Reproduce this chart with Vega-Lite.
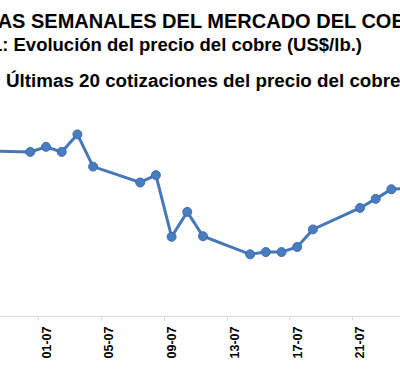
{
  "$schema": "https://vega.github.io/schema/vega-lite/v6.json",
  "background": "white",
  "padding": {"left": -78, "top": 12, "right": -34, "bottom": 0},
  "spacing": 0,
  "config": {"view": {"stroke": null}, "font": "Liberation Sans"},
  "title": {
    "text": "CIFRAS SEMANALES DEL MERCADO DEL COBRE",
    "anchor": "start", "frame": "group", "dx": -49,
    "font": "Liberation Sans", "fontSize": 20, "fontWeight": "bold", "color": "#000000",
    "offset": 3.3
  },
  "vconcat": [
    {
      "title": {
        "text": "Gráfico 1: Evolución del precio del cobre (US$/lb.)",
        "anchor": "start", "frame": "group", "dx": -78,
        "font": "Liberation Sans", "fontSize": 18.5, "fontWeight": "bold", "color": "#000000",
        "offset": 18
      },
      "vconcat": [
        {
          "title": {
            "text": "Últimas 20 cotizaciones del precio del cobre",
            "anchor": "start", "frame": "group", "dx": 6,
            "font": "Liberation Sans", "fontSize": 18.8, "fontWeight": "bold", "color": "#000000",
            "offset": 10.2
          },
          "width": 400,
          "height": 215,
          "data": {
            "values": [
              {"fecha": "2025-06-27", "precio": 4.552},
              {"fecha": "2025-06-30", "precio": 4.550},
              {"fecha": "2025-07-01", "precio": 4.559},
              {"fecha": "2025-07-02", "precio": 4.550},
              {"fecha": "2025-07-03", "precio": 4.581},
              {"fecha": "2025-07-04", "precio": 4.524},
              {"fecha": "2025-07-07", "precio": 4.496},
              {"fecha": "2025-07-08", "precio": 4.509},
              {"fecha": "2025-07-09", "precio": 4.400},
              {"fecha": "2025-07-10", "precio": 4.444},
              {"fecha": "2025-07-11", "precio": 4.401},
              {"fecha": "2025-07-14", "precio": 4.369},
              {"fecha": "2025-07-15", "precio": 4.373},
              {"fecha": "2025-07-16", "precio": 4.373},
              {"fecha": "2025-07-17", "precio": 4.382},
              {"fecha": "2025-07-18", "precio": 4.413},
              {"fecha": "2025-07-21", "precio": 4.451},
              {"fecha": "2025-07-22", "precio": 4.467},
              {"fecha": "2025-07-23", "precio": 4.484},
              {"fecha": "2025-07-24", "precio": 4.486}
            ]
          },
          "encoding": {
            "x": {
              "field": "fecha", "type": "temporal",
              "scale": {
                "type": "utc",
                "domain": [
                  {"year": 2025, "month": 6, "date": 28, "hours": 1, "minutes": 40, "utc": true},
                  {"year": 2025, "month": 7, "date": 23, "hours": 13, "minutes": 9, "utc": true}
                ]
              },
              "axis": {
                "title": null,
                "values": [
                  {"year": 2025, "month": 7, "date": 1, "utc": true},
                  {"year": 2025, "month": 7, "date": 5, "utc": true},
                  {"year": 2025, "month": 7, "date": 9, "utc": true},
                  {"year": 2025, "month": 7, "date": 13, "utc": true},
                  {"year": 2025, "month": 7, "date": 17, "utc": true},
                  {"year": 2025, "month": 7, "date": 21, "utc": true}
                ],
                "labelExpr": "utcFormat(datum.value, '%d-%m')",
                "grid": false,
                "domainColor": "#d9d9d9", "domainWidth": 1,
                "tickColor": "#d9d9d9", "tickSize": 4, "tickWidth": 1,
                "tickOffset": -7.85, "labelOffset": 7.85,
                "labelAngle": 270, "labelPadding": 6,
                "labelFont": "Liberation Sans", "labelFontSize": 12.5, "labelFontWeight": "bold",
                "labelColor": "#000000"
              }
            },
            "y": {
              "field": "precio", "type": "quantitative",
              "scale": {"domain": [4.26, 4.64], "zero": false},
              "axis": null
            }
          },
          "layer": [
            {"mark": {"type": "line", "color": "#4677BA", "strokeWidth": 3, "clip": true}},
            {"mark": {"type": "point", "filled": true, "size": 80, "fill": "#4A7CC0", "stroke": "#3A6AAE", "strokeWidth": 1, "opacity": 1, "clip": true}}
          ]
        }
      ]
    }
  ]
}
